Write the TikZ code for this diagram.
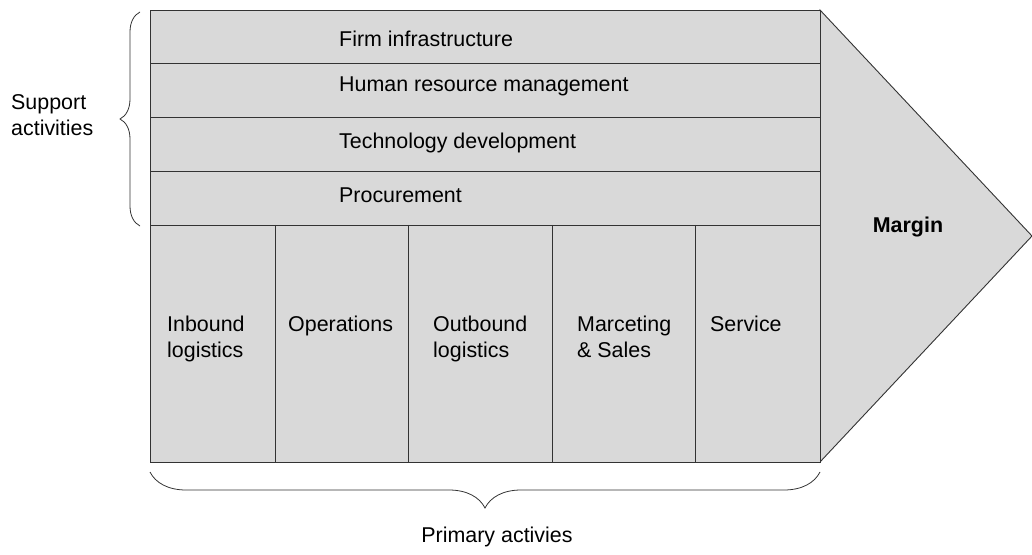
\documentclass[tikz,border=0pt]{standalone}
\usepackage{fontspec}
\setmainfont{Liberation Sans}
\usetikzlibrary{decorations.pathreplacing}

\tikzset{
	lbl/.style={font=\fontsize{21.5}{26}\selectfont, inner sep=0pt},
	rowlbl/.style={lbl, anchor=base west},
	collbl/.style={lbl, anchor=north west, align=left},
	frame/.style={line width=0.9bp, draw=black!80},
	shade/.style={fill=black!15},
	bracepath/.style={line width=0.8bp, draw=black!80, decorate},
}

\begin{document}
\begin{tikzpicture}[x=1bp,y=-1bp]
	%%%%% START %%%%%
	\useasboundingbox (0,0) rectangle (1032,555);
	
	% margin arrow head and main block
	\draw[frame, shade] (820,10) -- (1032,236) -- (820,462) -- cycle;
	\draw[frame, shade] (150,10) rectangle (820,462);
	
	% support rows
	\foreach \y in {63,117,171,225}
		\draw[frame] (150,\y) -- (820,\y);
	
	% primary columns
	\foreach \x in {275,408,552,695}
		\draw[frame] (\x,225) -- (\x,462);
	
	\node[rowlbl] (infra) at (339,47) {Firm infrastructure};
	\node[rowlbl] (hrm) at (339,92) {Human resource management};
	\node[rowlbl] (tech) at (339,149) {Technology development};
	\node[rowlbl] (proc) at (339,203) {Procurement};
	
	\node[collbl] (inbound) at (167,316) {Inbound\\logistics};
	\node[collbl] (ops) at (288,316) {Operations};
	\node[collbl] (outbound) at (433,316) {Outbound\\logistics};
	\node[collbl] (sales) at (577,316) {Marceting\\\& Sales};
	\node[collbl] (service) at (710,316) {Service};
	
	\node[lbl, anchor=base, font=\fontsize{21.5}{26}\selectfont\bfseries] (margin) at (908,233) {Margin};
	
	% braces
	\draw[bracepath, decoration={brace, amplitude=20bp}] (140,226) -- (140,12);
	\node[collbl] (support) at (11,94) {Support\\activities};
	
	\draw[bracepath, decoration={brace, amplitude=36bp}] (820,472) -- (150,472);
	\node[lbl, anchor=base] (primary) at (497,542) {Primary activies};
	
	%%%%% END %%%%%
\end{tikzpicture}
\end{document}
